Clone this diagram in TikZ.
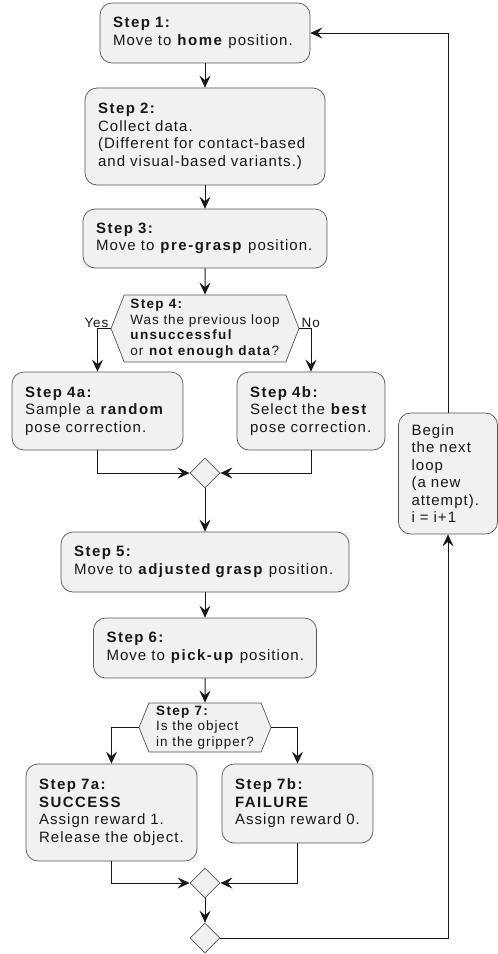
\documentclass[tikz,border=0pt]{standalone}
\usepackage{fontspec}
\setmainfont{Liberation Sans}[LetterSpace=7,BoldFeatures={LetterSpace=10}]
\usepackage{xcolor}
\usetikzlibrary{shapes.geometric, shapes.symbols, arrows.meta, positioning}
\definecolor{PumlFill}{HTML}{F1F1F1}
\definecolor{PumlLine}{HTML}{181818}
\definecolor{PumlBorder}{HTML}{555555}
\tikzset{
    box/.style={
        draw=PumlBorder,
        line width=0.7pt,
        fill=PumlFill,
        rounded corners=12pt,
        text=PumlLine,
        font=\fontsize{15}{17.5}\selectfont,
        align=left,
        inner xsep=13pt,
        inner ysep=4pt
    },
    hexbox/.style={
        signal,
        signal to=west and east,
        signal pointer angle=#1,
        draw=PumlBorder,
        line width=0.7pt,
        fill=PumlFill,
        text=PumlLine,
        font=\fontsize{13.5}{15.5}\selectfont,
        align=left,
        inner sep=2pt
    },
    hexbox/.default=136,
    merge/.style={
        diamond,
        draw=PumlBorder,
        line width=0.7pt,
        fill=PumlFill,
        minimum size=30pt,
        inner sep=0pt
    },
    arrow/.style={
        -{Stealth[length=12pt, width=11pt, inset=4.5pt]},
        line width=1pt,
        PumlLine
    },
    lbl/.style={
        text=PumlLine,
        font=\fontsize{13.5}{15.5}\selectfont,
        inner sep=1pt
    }
}
\begin{document}
\begin{tikzpicture}[x=1pt, y=-1pt]
        \useasboundingbox (0,0) rectangle (498,954);

        % Main column
        \node[box, text width=184pt, minimum height=60pt] (s1) at (205,33) {\textbf{Step 1:}\\Move to \textbf{home} position.};
        \node[box, text width=214pt, minimum height=97pt] (s2) at (205,136.5) {\textbf{Step 2:}\\Collect data.\\(Different for contact-based\\and visual-based variants.)};
        \node[box, text width=218pt, minimum height=59pt] (s3) at (205,238.5) {\textbf{Step 3:}\\Move to \textbf{pre-grasp} position.};
        \node[hexbox=137, minimum width=188pt, minimum height=67pt] (s4) at (205,328.5) {\textbf{Step 4:}\\Was the previous loop\\\textbf{unsuccessful}\\or \textbf{not enough data}?};

        % Branches of step 4
        \node[box, text width=145pt, minimum height=78pt] (s4a) at (97.5,411) {\textbf{Step 4a:}\\Sample a \textbf{random}\\pose correction.};
        \node[box, text width=122pt, minimum height=78pt] (s4b) at (311,411) {\textbf{Step 4b:}\\Select the \textbf{best}\\pose correction.};
        \node[merge] (m1) at (205,473) {};

        \node[box, text width=262pt, minimum height=60pt] (s5) at (205,562) {\textbf{Step 5:}\\Move to \textbf{adjusted grasp} position.};
        \node[box, text width=197pt, minimum height=60pt] (s6) at (205,648) {\textbf{Step 6:}\\Move to \textbf{pick-up} position.};
        \node[hexbox=136, minimum width=132pt, minimum height=49pt] (s7) at (205,727.5) {\textbf{Step 7:}\\Is the object\\in the gripper?};

        % Branches of step 7
        \node[box, text width=145pt, minimum height=97pt] (s7a) at (111.5,812.5) {\textbf{Step 7a:}\\\textbf{SUCCESS}\\Assign reward 1.\\Release the object.};
        \node[box, text width=125pt, minimum height=79pt] (s7b) at (297.5,803.5) {\textbf{Step 7b:}\\\textbf{FAILURE}\\Assign reward 0.};
        \node[merge] (m2) at (205,883) {};
        \node[merge] (m3) at (205,938) {};

        % Loop back
        \node[box, text width=73pt, minimum height=121pt] (nxt) at (448,473.5) {Begin\\the next\\loop\\(a new\\attempt).\\i = i+1};

        % Connectors
        \draw[arrow] (s1) -- (s2);
        \draw[arrow] (s2) -- (s3);
        \draw[arrow] (s3) -- (s4);
        \draw[arrow] (s4.west) -| (s4a.north);
        \draw[arrow] (s4.east) -| (s4b.north);
        \node[lbl, anchor=south east] (yes) at ([xshift=-1pt]s4.west) {Yes};
        \node[lbl, anchor=south west] (no) at ([xshift=1pt]s4.east) {No};
        \draw[arrow] (s4a.south) |- (m1.west);
        \draw[arrow] (s4b.south) |- (m1.east);
        \draw[arrow] (m1) -- (s5);
        \draw[arrow] (s5) -- (s6);
        \draw[arrow] (s6) -- (s7);
        \draw[arrow] (s7.west) -| (s7a.north);
        \draw[arrow] (s7.east) -| (s7b.north);
        \draw[arrow] (s7a.south) |- (m2.west);
        \draw[arrow] (s7b.south) |- (m2.east);
        \draw[arrow] (m2) -- (m3);
        \draw[arrow] (m3.east) -| (nxt.south);
        \draw[arrow] (nxt.north) |- (s1.east);
    \end{tikzpicture}
\end{document}
